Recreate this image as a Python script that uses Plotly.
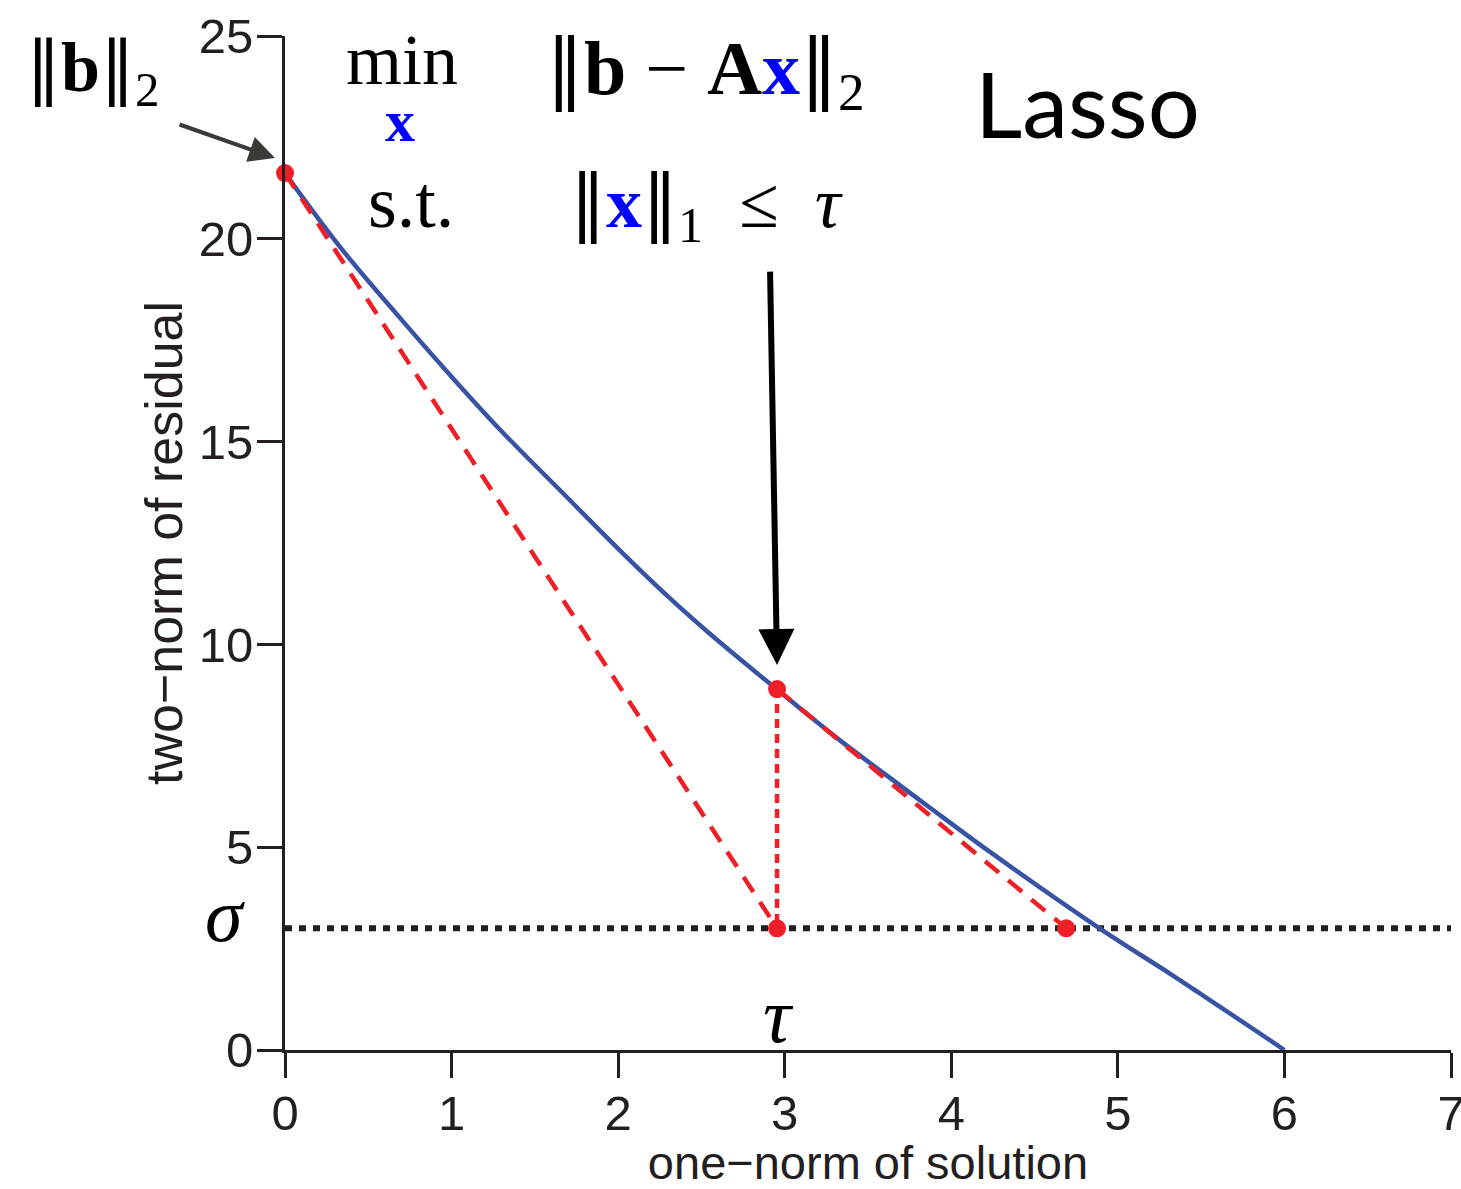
import plotly.graph_objects as go

# ---- data ----
curve_x = [0.0, 0.33, 0.69, 1.0, 1.29, 1.69, 1.99, 2.31, 2.54, 2.95, 3.33, 3.69, 3.87, 4.23, 4.89, 5.31, 5.49, 5.67, 6.0]
curve_y = [21.62, 19.8, 18.05, 16.6, 15.3, 13.64, 12.40, 11.14, 10.3, 8.90, 7.64, 6.53, 5.98, 4.89, 3.0, 1.89, 1.40, 0.91, 0.0]

b_norm = 21.62          # ||b||_2
sigma = 3.0             # sigma level
tau = 2.954             # tau
tau_resid = 8.90        # residual at tau
newton_x = 4.69         # tangent intersection with sigma

secant_x = [0.0, tau]
secant_y = [b_norm, sigma]
tangent_x = [tau, newton_x]
tangent_y = [tau_resid, sigma]
vert_x = [tau, tau]
vert_y = [tau_resid, sigma]
sigma_x = [0, 7]
sigma_y = [sigma, sigma]
dots_x = [0.0, tau, tau, newton_x]
dots_y = [b_norm, tau_resid, sigma, sigma]

x_ticks = [0, 1, 2, 3, 4, 5, 6, 7]
y_ticks = [0, 5, 10, 15, 20, 25]

RED = "#ee1f26"
BLUE = "#3953a4"
DARK = "#231f20"
SERIF = "Liberation Serif, DejaVu Serif, serif"
SANS = "Liberation Sans, Arial, sans-serif"
BAR = "<span style='font-family:DejaVu Serif;font-weight:normal'>‖</span>"
BX = "<b><span style='color:#0000ff'>x</span></b>"

fig = go.Figure()
fig.add_trace(go.Scatter(x=sigma_x, y=sigma_y, mode="lines",
                         line=dict(color=DARK, width=6, dash="7px,7px"), hoverinfo="skip"))
fig.add_trace(go.Scatter(x=curve_x, y=curve_y, mode="lines", line_shape="spline",
                         line=dict(color=BLUE, width=4.5), hoverinfo="skip"))
fig.add_trace(go.Scatter(x=secant_x, y=secant_y, mode="lines",
                         line=dict(color=RED, width=4.5, dash="18px,12px"), hoverinfo="skip"))
fig.add_trace(go.Scatter(x=tangent_x, y=tangent_y, mode="lines",
                         line=dict(color=RED, width=4.5, dash="18px,12px"), hoverinfo="skip"))
fig.add_trace(go.Scatter(x=vert_x, y=vert_y, mode="lines",
                         line=dict(color=RED, width=4.5, dash="9px,6px"), hoverinfo="skip"))
fig.add_trace(go.Scatter(x=dots_x, y=dots_y, mode="markers", cliponaxis=False,
                         marker=dict(color=RED, size=18), hoverinfo="skip"))

ann = []
def txt(x, y, text, size, font=SERIF, color="black", ref="x"):
    ann.append(dict(x=x, y=y, xref="paper" if ref == "paper" else "x",
                    yref="paper" if ref == "paper" else "y", text=text, showarrow=False,
                    font=dict(family=font, size=size, color=color),
                    xanchor="center", yanchor="middle"))

txt(-0.1647, 0.9645, BAR + "<b>b</b>" + BAR + "<sub>2</sub>", 70, ref="paper")
txt(0.702, 24.4, "min", 72)
txt(0.69, 22.9, "<b>x</b>", 60, color="#0000ff")
txt(2.525, 24.11, BAR + "<b>b</b> − <b>A</b>" + BX + BAR + "<sub>2</sub>", 76)
txt(0.756, 20.9, "s.t.", 74)
txt(2.533, 20.8, BAR + BX + BAR + "<sub>1</sub>  ≤  <i>τ</i>", 72)
txt(4.82, 23.35, "Lasso", 92, font="Lato, Open Sans, sans-serif")
txt(-0.0515, 0.1331, "<i>σ</i>", 76, ref="paper")
txt(2.96, 0.86, "<i>τ</i>", 78)

ann.append(dict(x=-0.00858, y=0.8797, xref="paper", yref="paper", ax=-97, ay=-34, axref="pixel", ayref="pixel",
                showarrow=True, arrowhead=2, arrowsize=1.3, arrowwidth=4, arrowcolor="#3b3a36", text=""))
ann.append(dict(x=2.954, y=9.49, xref="x", yref="y", ax=-7, ay=-395, axref="pixel", ayref="pixel",
                showarrow=True, arrowhead=2, arrowsize=1.2, arrowwidth=6, arrowcolor="black", text=""))

fig.update_layout(
    width=1461, height=1189,
    margin=dict(l=285, r=10, t=36, b=139),
    paper_bgcolor="white", plot_bgcolor="white",
    showlegend=False,
    annotations=ann,
    font=dict(family=SANS, size=48, color=DARK),
)
fig.update_xaxes(range=[0, 7], tickvals=x_ticks, showline=True, linecolor=DARK, linewidth=3,
                 ticks="outside", ticklen=25, tickwidth=3, tickcolor=DARK, showgrid=False, zeroline=False,
                 ticklabeloverflow="allow", automargin=False, ticklabelstandoff=-7,
                 tickfont=dict(size=49, family=SANS, color=DARK),
                 title=dict(text="one−norm of solution", font=dict(size=47, family=SANS, color=DARK), standoff=9))
fig.update_yaxes(range=[0, 25], tickvals=y_ticks, showline=True, linecolor=DARK, linewidth=3,
                 ticks="outside", ticklen=25, tickwidth=3, tickcolor=DARK, showgrid=False, zeroline=False,
                 ticklabeloverflow="allow", automargin=False, ticklabelstandoff=-6,
                 tickfont=dict(size=49, family=SANS, color=DARK),
                 title=dict(text="two−norm of residual", font=dict(size=52, family=SANS, color=DARK), standoff=0))

fig.write_html("out.html")
